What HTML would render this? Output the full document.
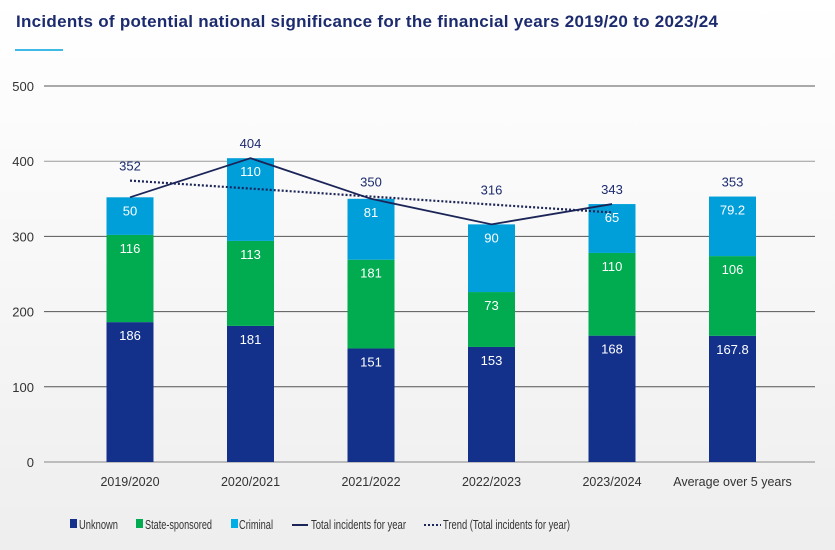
<!DOCTYPE html>
<html><head><meta charset="utf-8"><style>
body{margin:0;width:835px;height:550px;overflow:hidden;font-family:"Liberation Sans",sans-serif;background:linear-gradient(#ffffff 0%,#f7f7f7 50%,#eeeeee 100%);}
</style></head><body>
<svg id="c" width="835" height="550" style="position:absolute;left:0;top:0">
<text x="16" y="27" font-size="17" font-weight="bold" fill="#1c2b6e" textLength="702">Incidents of potential national significance for the financial years 2019/20 to 2023/24</text>
<line x1="15" y1="50" x2="63" y2="50" stroke="#00a3e0" stroke-width="1.5"/>
<g id="grid"></g><g id="bars"></g><g id="lines"></g>
<g font-size="13" fill="#333">
<rect x="70" y="519" width="7" height="9" fill="#13318a"/><text x="79" y="529" textLength="39" lengthAdjust="spacingAndGlyphs">Unknown</text>
<rect x="136" y="519" width="7" height="9" fill="#00ac4f"/><text x="145" y="529" textLength="67" lengthAdjust="spacingAndGlyphs">State-sponsored</text>
<rect x="231" y="519" width="7" height="9" fill="#00aee6"/><text x="239" y="529" textLength="34" lengthAdjust="spacingAndGlyphs">Criminal</text>
<line x1="292" y1="525" x2="308" y2="525" stroke="#1c2558" stroke-width="2"/><text x="311" y="529" textLength="95" lengthAdjust="spacingAndGlyphs">Total incidents for year</text>
<line x1="424" y1="525" x2="441" y2="525" stroke="#1c2558" stroke-width="2" stroke-dasharray="2,2"/><text x="443" y="529" textLength="127" lengthAdjust="spacingAndGlyphs">Trend (Total incidents for year)</text>
</g>
</svg>
<script>
const categories=["2019/2020","2020/2021","2021/2022","2022/2023","2023/2024","Average over 5 years"];
const unknown=[186,181,151,153,168,167.8];
const stateSponsored=[116,113,118,73,110,106];
const criminal=[50,110,81,90,65,79.2];
const unknownLabels=["186","181","151","153","168","167.8"];
const stateLabels=["116","113","181","73","110","106"];
const criminalLabels=["50","110","81","90","65","79.2"];
const totals=[352,404,350,316,343,353];
const yTicks=[0,100,200,300,400,500];
const NS="http://www.w3.org/2000/svg";
const y=v=>462-v*0.752, xc=i=>130+i*120.5, bw=47;
function mk(t,a,p){const e=document.createElementNS(NS,t);for(const k in a)e.setAttribute(k,a[k]);p.appendChild(e);return e;}
const G=document.getElementById('grid'),B=document.getElementById('bars'),L=document.getElementById('lines');
yTicks.forEach(v=>{
 const l=mk('line',{x1:44,x2:815,y1:y(v),y2:y(v),stroke:v==400?'#999':(v==0?'#888':'#555'),'stroke-width':1},G);
 
 
 const t=mk('text',{x:34,y:y(v)+5,'text-anchor':'end','font-size':13,fill:'#333'},G);t.textContent=v;
 
 
});
const n=5;const pts=totals.slice(0,n);
const mx=(n-1)/2,my=pts.reduce((a,b)=>a+b)/n;let num=0,den=0;pts.forEach((v,i)=>{num+=(i-mx)*(v-my);den+=(i-mx)**2;});
const s=num/den,a0=my-s*mx;
categories.forEach((c,i)=>{
 const x=xc(i)-bw/2;let base=0;
 [[unknown,unknownLabels,'#13318a','unknown'],[stateSponsored,stateLabels,'#00ac4f','state-sponsored'],[criminal,criminalLabels,'#009fda','criminal']].forEach(([arr,lab,col,nm])=>{
  const v=arr[i];
  const r=mk('rect',{x:x,y:y(base+v),width:bw,height:v*0.752,fill:col},B);
  
  
  const t=mk('text',{x:xc(i),y:y(base+v)+18,'text-anchor':'middle','font-size':13,fill:'#fff'},B);t.textContent=lab[i];
  
  
  base+=v;
 });
 let top=y(base);
 if(i<n) top=Math.min(top,y(a0+s*i));
 const tt=mk('text',{x:xc(i),y:top-10,'text-anchor':'middle','font-size':13,fill:'#1c2b6e'},B);tt.textContent=totals[i];
 
 
 const xl=mk('text',{x:xc(i),y:486,'text-anchor':'middle','font-size':12.5,fill:'#333'},B);xl.textContent=c;
 
 
});
const line=mk('polyline',{points:pts.map((v,i)=>xc(i)+','+y(v)).join(' '),fill:'none',stroke:'#1c2558','stroke-width':1.8},L);


const tr=mk('line',{x1:xc(0),y1:y(a0),x2:xc(n-1),y2:y(a0+s*(n-1)),stroke:'#1c2558','stroke-width':2.2,'stroke-dasharray':'2,2'},L);


</script>
</body></html>
